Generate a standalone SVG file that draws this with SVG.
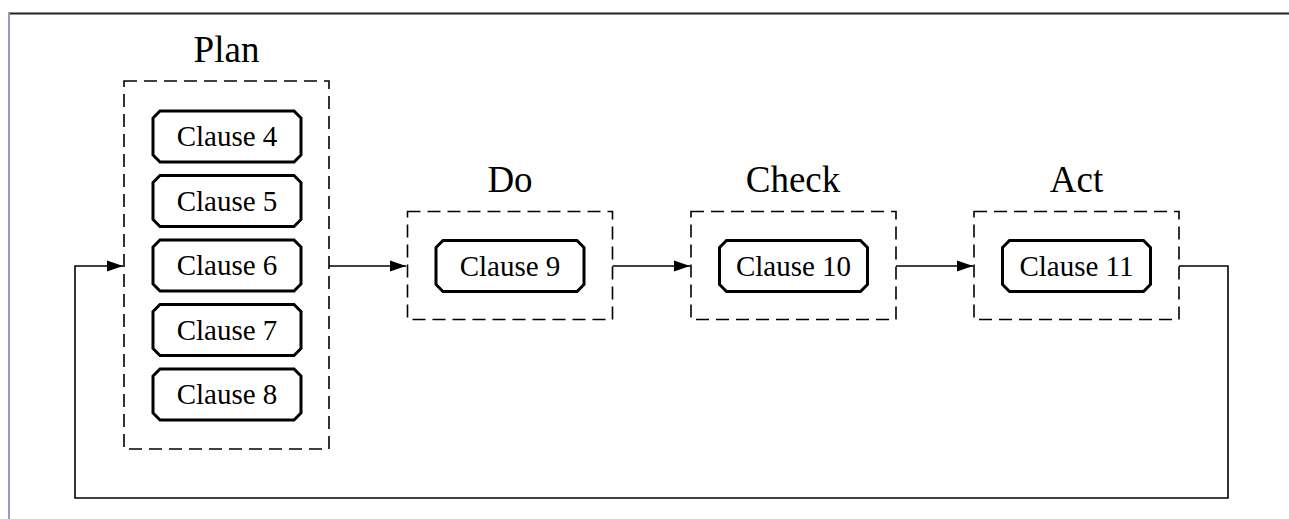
<svg xmlns="http://www.w3.org/2000/svg" width="1289" height="519" viewBox="0 0 1289 519">
<defs>
<style>
.grp{fill:none;stroke:#000;stroke-width:1.6;stroke-dasharray:13 7}
.cl{fill:#fff;stroke:#000;stroke-width:3;stroke-linejoin:miter}
.ct{font-family:"Liberation Serif",serif;font-size:29px;text-anchor:middle;fill:#000}
.gt{font-family:"Liberation Serif",serif;font-size:37px;text-anchor:middle;fill:#000}
.edge{fill:none;stroke:#000;stroke-width:1.6}
</style>
<marker id="arr" viewBox="0 0 16 12" refX="16" refY="6" markerWidth="16" markerHeight="12" markerUnits="userSpaceOnUse" orient="auto">
<path d="M0,0.5 L16,6 L0,11.5 Z" fill="#000"/>
</marker>
<path id="oct" d="M7,0 H141 L148,7 V44 L141,51 H7 L0,44 V7 Z"/>
</defs>
<rect width="1289" height="519" fill="#fff"/>
<line x1="8" y1="13.5" x2="1289" y2="13.5" stroke="#222" stroke-width="1.8"/>
<line x1="9" y1="13" x2="9" y2="519" stroke="#9d97c5" stroke-width="2"/>
<g id="plan">
<text class="gt" x="226.5" y="62">Plan</text>
<rect class="grp" x="124" y="81" width="205" height="368"/>
<g id="clause4"><use href="#oct" class="cl" x="153" y="111"/><text class="ct" x="227" y="146">Clause 4</text></g>
<g id="clause5"><use href="#oct" class="cl" x="153" y="175.5"/><text class="ct" x="227" y="210.5">Clause 5</text></g>
<g id="clause6"><use href="#oct" class="cl" x="153" y="240"/><text class="ct" x="227" y="275">Clause 6</text></g>
<g id="clause7"><use href="#oct" class="cl" x="153" y="304.5"/><text class="ct" x="227" y="339.5">Clause 7</text></g>
<g id="clause8"><use href="#oct" class="cl" x="153" y="369"/><text class="ct" x="227" y="404">Clause 8</text></g>
</g>
<g id="do">
<text class="gt" x="510" y="192">Do</text>
<rect class="grp" x="407.5" y="211.5" width="205" height="108"/>
<g id="clause9"><use href="#oct" class="cl" x="436" y="240.5"/><text class="ct" x="510" y="275.5">Clause 9</text></g>
</g>
<g id="check">
<text class="gt" x="793" y="192">Check</text>
<rect class="grp" x="691" y="211.5" width="205" height="108"/>
<g id="clause10"><use href="#oct" class="cl" x="719.5" y="240.5"/><text class="ct" x="793.5" y="275.5">Clause 10</text></g>
</g>
<g id="act">
<text class="gt" x="1076.5" y="192">Act</text>
<rect class="grp" x="974" y="211.5" width="205" height="108"/>
<g id="clause11"><use href="#oct" class="cl" x="1002.5" y="240.5"/><text class="ct" x="1076.5" y="275.5">Clause 11</text></g>
</g>
<g id="connectors">
<line class="edge" x1="329" y1="266" x2="406" y2="266" marker-end="url(#arr)"/>
<line class="edge" x1="612.5" y1="266" x2="690" y2="266" marker-end="url(#arr)"/>
<line class="edge" x1="896" y1="266" x2="973" y2="266" marker-end="url(#arr)"/>
<polyline class="edge" points="1179,266 1228,266 1228,498 75,498 75,266 123,266" marker-end="url(#arr)"/>
</g>
</svg>
